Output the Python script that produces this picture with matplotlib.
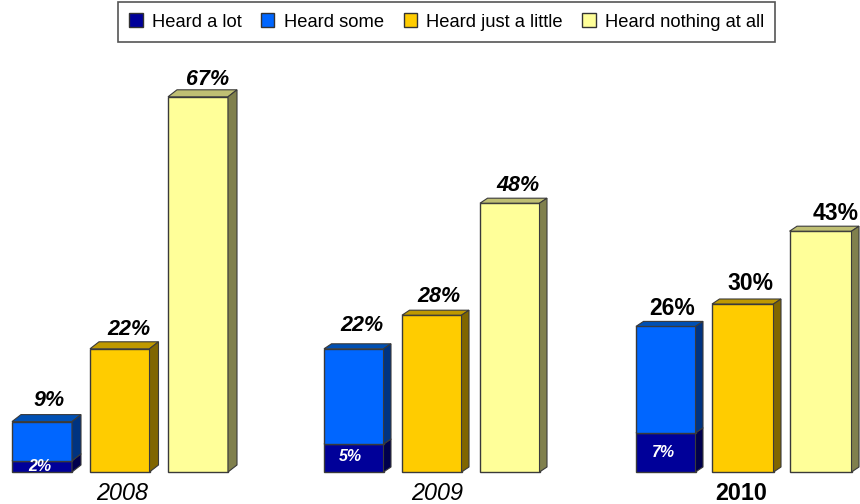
import matplotlib
matplotlib.use("Agg")
import matplotlib.pyplot as plt
from matplotlib.patches import Polygon, Patch

plt.rcParams['font.family'] = ['Liberation Sans', 'DejaVu Sans']

years = ['2008', '2009', '2010']
series_names = ['Heard a lot', 'Heard some', 'Heard just a little', 'Heard nothing at all']
heard_lot = [2, 5, 7]
heard_some = [7, 17, 19]
heard_some_total = [9, 22, 26]
heard_little = [22, 28, 30]
heard_nothing = [67, 48, 43]

C = {'navy': ('#000099', '#000073', '#00004D'),
     'blue': ('#0066FF', '#0050B4', '#003380'),
     'orange': ('#FFCC00', '#BF9900', '#806600'),
     'yellow': ('#FFFF99', '#BFBF73', '#80804D')}

W, H, BASE, PXPCT = 860, 504, 472, 5.6
fig = plt.figure(figsize=(8.6, 5.04), dpi=100)
ax = fig.add_axes([0, 0, 1, 1])
ax.set_xlim(0, W)
ax.set_ylim(-(H - BASE) / PXPCT, BASE / PXPCT)
ax.axis('off')

# layout, in pixels
blue_left = [12, 324, 636]
orange_left = [90, 402, 712]
yellow_left = [168, 480, 789.5]
blue_w = [60, 59.5, 59.5]
orange_w = [59.5, 59.5, 61.5]
yellow_w = [60, 59.5, 62]
depth_x = [9, 7.5, 7.5]
depth_y = [7, 5, 5]
blue_lab = [(7, 21), (8.5, 23), (6, 18)]
orange_lab = [(9, 19.5), (7, 19), (7.5, 20)]
yellow_lab = [(10, 17.5), (8, 18), (15, 18)]
year_x = [122, 437, 741]
inner_x = [40, 350, 663]
inner_y = [1.0, 2.7, 3.55]


def bar3d(x, w, bottom, val, c, dx, dy, z=2):
    top = bottom + val
    dy = dy / PXPCT
    f, t, s = C[c]
    ax.bar(x, val, w, bottom=bottom, align='edge', color=f, edgecolor='#3a3a3a', lw=1.0, zorder=z)
    ax.add_patch(Polygon([(x, top), (x + dx, top + dy), (x + w + dx, top + dy), (x + w, top)],
                         fc=t, ec='#3a3a3a', lw=0.8, zorder=z))
    ax.add_patch(Polygon([(x + w, bottom), (x + w + dx, bottom + dy), (x + w + dx, top + dy), (x + w, top)],
                         fc=s, ec='#3a3a3a', lw=0.8, zorder=z))


def lab(x, w, v, off, bold):
    ax.text(x + w / 2 + off[0], v + off[1] / PXPCT, f'{v}%', ha='center', va='center',
            fontsize=16.5 if bold else 15.5, fontweight='bold', style='normal' if bold else 'italic',
            color='#000000', zorder=5)


for i in range(3):
    bold = years[i] == '2010'
    dx, dy = depth_x[i], depth_y[i]
    bar3d(blue_left[i], blue_w[i], 0, heard_lot[i], 'navy', dx, dy, 2)
    bar3d(blue_left[i], blue_w[i], heard_lot[i], heard_some[i], 'blue', dx, dy, 3)
    bar3d(orange_left[i], orange_w[i], 0, heard_little[i], 'orange', dx, dy)
    bar3d(yellow_left[i], yellow_w[i], 0, heard_nothing[i], 'yellow', dx, dy)
    lab(blue_left[i], blue_w[i], heard_some_total[i], blue_lab[i], bold)
    lab(orange_left[i], orange_w[i], heard_little[i], orange_lab[i], bold)
    lab(yellow_left[i], yellow_w[i], heard_nothing[i], yellow_lab[i], bold)
    ax.text(inner_x[i], inner_y[i], f'{heard_lot[i]}%', ha='center', va='center',
            fontsize=11.5, fontweight='bold', style='italic', color='white', zorder=6)
    ax.text(year_x[i], -3.85, years[i], ha='center', va='center',
            fontsize=16.8, fontweight='bold' if bold else 'normal',
            style='normal' if bold else 'italic', color='black')

handles = [Patch(fc=C[c][0], ec='#333333', lw=1) for c in ('navy', 'blue', 'orange', 'yellow')]
leg = ax.legend(handles, series_names, loc='upper left', bbox_to_anchor=(118 / W, 1 - 2 / H), ncol=4,
                frameon=True, fancybox=False, edgecolor='#555555', framealpha=1,
                fontsize=13.2, handlelength=0.72, handleheight=0.8, handletextpad=0.5,
                columnspacing=1.08, borderpad=0.62, borderaxespad=0)
leg.get_frame().set_linewidth(1.2)

fig.savefig('out.png', dpi=100)
